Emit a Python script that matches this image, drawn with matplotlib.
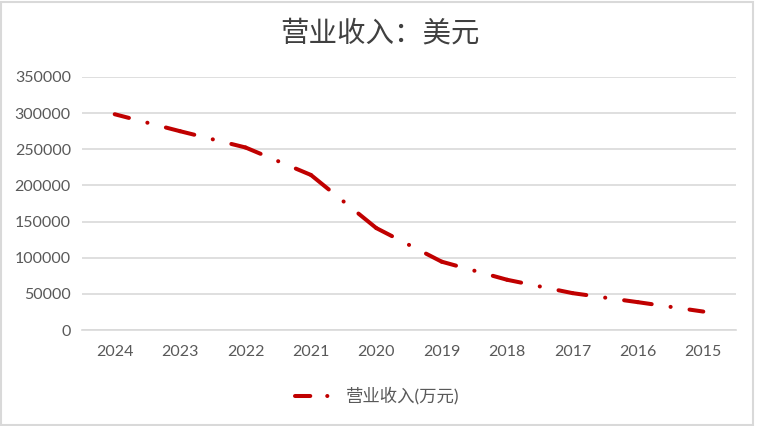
import math
import matplotlib
matplotlib.use("Agg")
import matplotlib.pyplot as plt
from matplotlib.lines import Line2D
from matplotlib.patches import Rectangle

plt.rcParams['font.family'] = ['Lato', 'Noto Sans CJK SC', 'DejaVu Sans']
plt.rcParams['lines.scale_dashes'] = False

years = ['2024', '2023', '2022', '2021', '2020', '2019', '2018', '2017', '2016', '2015']
revenue = [298500, 275000, 252500, 214500, 141000, 94500, 69500, 51000, 38500, 25500]
y_ticks = [0, 50000, 100000, 150000, 200000, 250000, 300000, 350000]

line_color = '#C00000'
text_color = '#595959'
grid_color = '#D9D9D9'
lw = 2.9
gap = 13.7  # points, dash pattern gap around the dot

W, H = 759, 426
fig = plt.figure(figsize=(W / 100, H / 100), dpi=100)
ax = fig.add_axes([82 / W, 1 - 330 / H, (736 - 82) / W, (330 - 77) / H])

ax.set_xlim(-0.5, len(years) - 0.5)
ax.set_ylim(0, 350000)

# excel restarts the long-dash-dot pattern on every segment, dot in the middle
x = list(range(len(years)))
pts = ax.transData.transform(list(zip(x, revenue)))
for i in range(len(x) - 1):
    (x0, y0), (x1, y1) = pts[i], pts[i + 1]
    seg = math.hypot(x1 - x0, y1 - y0) * 72 / 100
    dash = seg / 2 - gap - 0.05
    ax.plot(x[i:i + 2], revenue[i:i + 2], color=line_color, linewidth=lw,
            linestyle=(0, (dash, gap, 0.1, gap, seg, 1)),
            dash_capstyle='round', solid_capstyle='round')

ax.set_xticks(x)
ax.set_xticklabels(years)
ax.set_yticks(y_ticks)
ax.set_yticklabels([str(v) for v in y_ticks])

ax.grid(True, axis='y', color=grid_color, linewidth=1.2)
ax.set_axisbelow(True)
for side in ['top', 'right', 'left']:
    ax.spines[side].set_visible(False)
ax.spines['bottom'].set_color(grid_color)
ax.spines['bottom'].set_linewidth(1.2)
ax.tick_params(axis='both', length=0, labelsize=11.5, labelcolor=text_color)
ax.tick_params(axis='x', pad=11)
ax.tick_params(axis='y', pad=8)

fig.text(0.5, 1 - 34 / H, '营业收入：美元', ha='center', va='center',
         fontsize=20.5, color='#404040', family=['Noto Sans CJK SC', 'DejaVu Sans'])

proxy = Line2D([], [], color=line_color, linewidth=lw,
               dashes=(11, 12.2, 0.1, 30), dash_capstyle='round')
fig.legend([proxy], ['营业收入(万元)'], loc='center', bbox_to_anchor=(377 / W, 1 - 396 / H),
           frameon=False, fontsize=12.5, handlelength=2.3, handletextpad=0.6,
           labelcolor=text_color)

fig.patches.append(Rectangle((1 / W, 1 / H), 752 / W, 423 / H, transform=fig.transFigure,
                             fill=False, edgecolor=grid_color, linewidth=1.5))

fig.savefig('out.png', dpi=100)
